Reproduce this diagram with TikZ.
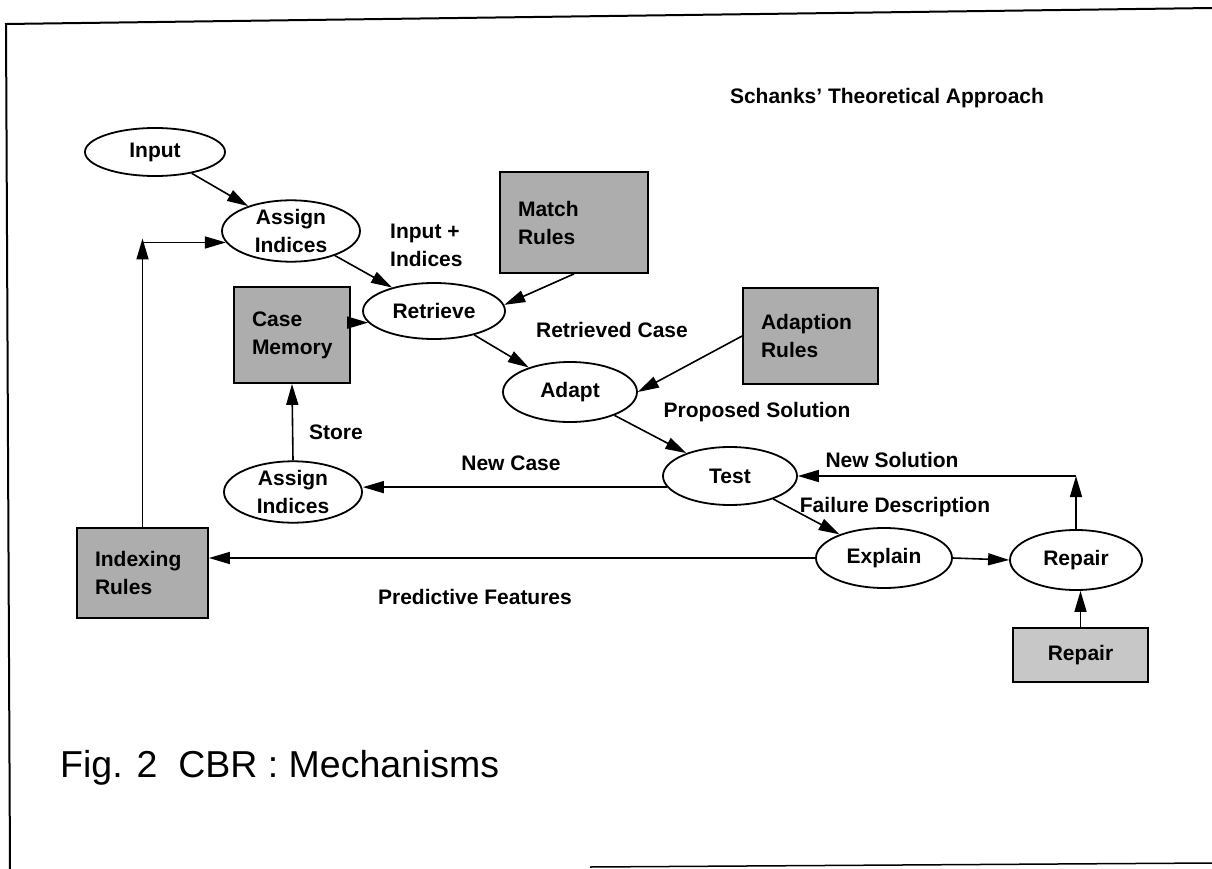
\documentclass[tikz,border=0pt]{standalone}
\usepackage{fontspec}
\setmainfont{Liberation Sans}
\usetikzlibrary{arrows.meta,shapes.geometric,calc}
\definecolor{stip}{gray}{0.68}
\definecolor{stiplight}{gray}{0.78}
\begin{document}
\begin{tikzpicture}[x=1pt,y=-1pt,
  every node/.style={font=\fontsize{21}{28}\selectfont\bfseries},
  proc/.style={draw,ellipse,line width=1.8pt,inner sep=0pt,align=center},
  storebox/.style={draw,rectangle,line width=1.8pt,fill=stip,inner ysep=0pt,inner xsep=18pt,align=left},
  lbl/.style={inner sep=0pt},
  arr/.style={line width=1.6pt,-{Triangle[length=21pt,width=12pt]}},
  frame/.style={line width=2pt}
]
\useasboundingbox (0,0) rectangle (1212,869);
% frame
\draw[frame] (1212,8) -- (6,24) -- (10,869);
\draw[line width=1.5pt] (590,867) -- (1212,863);

% processes
\node[proc,minimum width=140pt,minimum height=48pt] (input) at (155,152) {Input};
\node[proc,minimum width=138pt,minimum height=58pt] (assign1) at (291,231) {Assign\\Indices};
\node[proc,minimum width=142pt,minimum height=56pt] (retrieve) at (434,311) {Retrieve};
\node[proc,minimum width=134pt,minimum height=60pt] (adapt) at (570,392) {Adapt};
\node[proc,minimum width=134pt,minimum height=58pt] (test) at (730,476) {Test};
\node[proc,minimum width=138pt,minimum height=60pt] (assign2) at (293,492) {Assign\\Indices};
\node[proc,minimum width=136pt,minimum height=60pt] (explain) at (884,558) {Explain};
\node[proc,minimum width=132pt,minimum height=60pt] (repair) at (1076,560) {Repair};

% stores
\node[storebox,text width=112pt,minimum height=101pt] (match) at (574,222.5) {Match\\Rules};
\node[storebox,text width=80pt,minimum height=96pt] (case) at (292,335) {Case\\Memory};
\node[storebox,text width=99pt,minimum height=96pt] (adaption) at (810.5,336) {Adaption\\Rules};
\node[storebox,text width=95pt,minimum height=90pt] (indexing) at (142.5,573) {Indexing\\Rules};
\node[storebox,fill=stiplight,text width=99pt,minimum height=54pt,align=center] (repairbox) at (1080.5,655) {Repair};

% labels
\node[lbl] (schank) at (887,98) {Schanks\char"27\ Theoretical Approach};
\node[lbl,align=left,anchor=west] (ii) at (390,245) {Input +\\Indices};
\node[lbl] (rc) at (612,330) {Retrieved Case};
\node[lbl] (ps) at (757,412) {Proposed Solution};
\node[lbl] (st) at (336,432) {Store};
\node[lbl] (nc) at (511,463) {New Case};
\node[lbl] (ns) at (892,460) {New Solution};
\node[lbl] (fd) at (895,507) {Failure Description};
\node[lbl] (pf) at (475,597) {Predictive Features};
\node[lbl,anchor=west,font=\fontsize{37.5}{42}\selectfont] (cap) at (60,768) {Fig. 2\ \ CBR : Mechanisms};

% connectors
\draw[arr] (input) -- (assign1);
\draw[arr] (assign1) -- (retrieve);
\draw[arr] (match.south) -- (retrieve.5);
\draw[arr] (case.east |- retrieve.190) -- (retrieve.190);
\draw[arr] (retrieve) -- (adapt);
\draw[arr] (adaption.west) -- (adapt.east);
\draw[arr] (adapt) -- (test);
\draw[arr] (test.190) -- (test.190 -| assign2.east);
\draw[arr] (assign2.north) -- (case.south);
\draw[arr] (test) -- (explain);
\draw[arr] (explain.east) -- (repair.west);
\draw[arr] (explain.west) -- (explain.west -| indexing.east);
\draw[arr] (repairbox.north) -- (repairbox.north |- repair.south);
\coordinate (rt) at (repair.north |- test.east);
\draw[arr] (repair.north) -- (rt);
\draw[arr] (rt) -- (test.east);
\coordinate (ia) at (indexing.north |- assign1.190);
\draw[arr] (indexing.north) -- ([yshift=4pt]ia);
\draw[arr] (ia) -- (assign1.190);
\end{tikzpicture}
\end{document}
